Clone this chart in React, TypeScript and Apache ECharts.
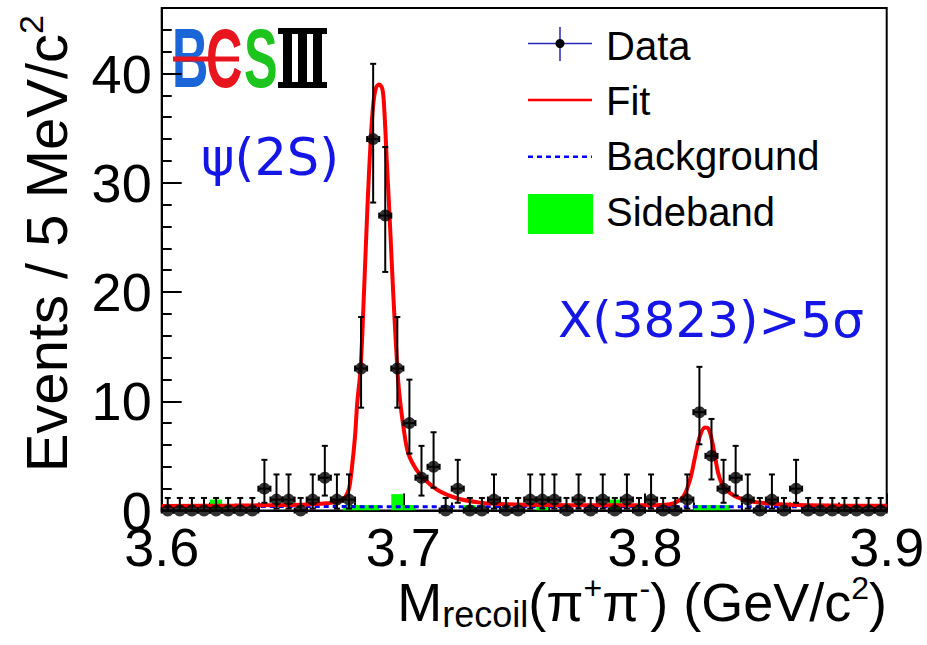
import React, { useEffect, useRef } from "react";
import * as echarts from "echarts";

// ---- Histogram definition ----
const BIN_START = 3.6;
const BIN_WIDTH = 0.005;

// Observed counts per 5 MeV bin (60 bins, 3.600 - 3.900 GeV)
const counts = [
  0, 0, 0, 0, 0, 0, 0, 0, 2, 1,
  1, 0, 1, 3, 1, 1, 13, 34, 27, 13,
  8, 3, 4, 0, 2, 0, 0, 1, 0, 0,
  1, 1, 1, 0, 1, 0, 1, 0, 1, 0,
  1, 0, 0, 1, 9, 5, 2, 3, 1, 0,
  1, 0, 2, 0, 0, 0, 0, 0, 0, 0,
];

// Sideband histogram (scaled) per bin
const sideband = [
  0, 0, 0, 0, 1.0, 0, 0, 0, 0, 0,
  0, 0, 0, 0, 0, 0.5, 0.5, 0.5, 0, 1.5,
  0.5, 0, 0, 0, 0, 0.5, 0, 0, 0, 0,
  0, 0.5, 0, 0, 0, 0, 0, 1.0, 0, 0,
  0, 0, 0, 0, 0.5, 0.5, 0.5, 0, 0, 0,
  0, 0, 0, 0, 0, 0, 0, 0, 0, 0,
];

// 68% Poisson interval (lower, upper) for the observed counts
const poissonLo: Record<number, number> = {
  0: 0, 1: 0.173, 2: 0.708, 3: 1.367, 4: 2.086, 5: 2.84, 8: 5.214, 9: 6.055, 13: 9.414, 27: 21.84, 34: 28.19,
};
const poissonHi: Record<number, number> = {
  0: 1.148, 1: 3.3, 2: 4.638, 3: 5.918, 4: 7.163, 5: 8.382, 8: 11.98, 9: 13.15, 13: 17.71, 27: 33.27, 34: 40.89,
};

// Fit curve
const fitMass = [
  3.6, 3.63, 3.65, 3.66, 3.667, 3.67, 3.674, 3.676, 3.6775, 3.6786,
  3.68, 3.6809, 3.6823, 3.6837, 3.6851, 3.6865, 3.6876, 3.6887, 3.6899, 3.6913,
  3.6921, 3.6931, 3.6945, 3.6958, 3.6975, 3.6983, 3.7, 3.702, 3.7055, 3.7097,
  3.7152, 3.7221, 3.7317, 3.74, 3.75, 3.77, 3.79, 3.8, 3.8062, 3.8117,
  3.8158, 3.8186, 3.8207, 3.8227, 3.8248, 3.8262, 3.8276, 3.829, 3.8303, 3.8324,
  3.8352, 3.8393, 3.8448, 3.8503, 3.86, 3.88, 3.9,
];
const fitValue = [
  0.42, 0.45, 0.5, 0.55, 0.65, 0.7, 0.9, 1.25, 2.0, 3.7,
  6.8, 9.8, 13.0, 19.9, 27.6, 34.0, 37.3, 38.7, 39.0, 38.6,
  36.7, 32.2, 26.0, 19.9, 13.0, 10.75, 7.7, 5.25, 3.7, 2.65,
  1.73, 1.12, 0.72, 0.6, 0.53, 0.49, 0.47, 0.48, 0.5, 0.66,
  1.27, 2.8, 4.9, 6.8, 7.6, 7.5, 6.5, 4.9, 3.4, 2.2,
  1.6, 1.1, 0.8, 0.66, 0.52, 0.45, 0.43,
];

// Background component
const bgMass = [3.6, 3.9];
const bgValue = [0.36, 0.34];

// Axis ticks
const yMajorTicks = [0, 10, 20, 30, 40];

const FONT = "'Liberation Sans', Arial, Helvetica, sans-serif";
const BLUE_TXT = "#1515e6";

export default function App() {
  const ref = useRef<HTMLDivElement>(null);

  useEffect(() => {
    if (!ref.current) return;
    const chart = echarts.init(ref.current, undefined, { renderer: "svg" });

    const dataPts = counts.map((n, i) => [
      BIN_START + BIN_WIDTH * (i + 0.5),
      n,
      poissonLo[n],
      poissonHi[n],
    ]);
    const sbData = sideband
      .map((v, i) => [BIN_START + BIN_WIDTH * i, v])
      .filter((d) => d[1] > 0);

    const legendFont = `40px ${FONT}`;

    const option: any = {
      animation: false,
      grid: {
        left: 161.7,
        right: 40.3,
        top: 8,
        bottom: 134.5,
        show: true,
        borderColor: "#000",
        borderWidth: 2,
        backgroundColor: "transparent",
        containLabel: false,
        outerBoundsMode: "none",
      },
      xAxis: [
        {
          type: "value",
          min: 3.6,
          max: 3.9,
          interval: 0.1,
          position: "bottom",
          axisLine: { show: true, lineStyle: { color: "#000", width: 2 } },
          axisTick: { show: true, inside: true, length: 17, lineStyle: { color: "#000", width: 2 } },
          minorTick: { show: true, splitNumber: 5, length: 8, lineStyle: { color: "#000", width: 2 } },
          splitLine: { show: false },
          axisLabel: {
            margin: 9,
            fontSize: 54,
            fontFamily: FONT,
            color: "#000",
            formatter: (v: number) => v.toFixed(1),
          },
        },
      ],
      yAxis: [
        {
          type: "value",
          min: 0,
          max: 46,
          interval: 2,
          position: "left",
          axisLine: { show: true, lineStyle: { color: "#000", width: 2 } },
          axisTick: { show: true, inside: true, length: 10, lineStyle: { color: "#000", width: 2 } },
          splitLine: { show: false },
          axisLabel: {
            margin: 10,
            fontSize: 54,
            fontFamily: FONT,
            color: "#000",
            formatter: (v: number) =>
              Math.abs(v - Math.round(v / 10) * 10) < 1e-6 ? String(Math.round(v)) : "",
          },
        },
        {
          type: "value",
          min: 0,
          max: 46,
          position: "left",
          axisLine: { show: false },
          axisLabel: { show: false },
          splitLine: { show: false },
          axisTick: {
            show: true,
            inside: true,
            length: 20,
            customValues: yMajorTicks,
            lineStyle: { color: "#000", width: 2 },
          },
        },
      ],
      series: [
        {
          name: "Sideband",
          type: "custom",
          z: 1,
          clip: true,
          data: sbData,
          renderItem: (params: any, api: any) => {
            const x0 = api.value(0);
            const v = api.value(1);
            const p1 = api.coord([x0, v]);
            const p2 = api.coord([x0 + BIN_WIDTH, 0]);
            return {
              type: "rect",
              shape: { x: p1[0], y: p1[1], width: p2[0] - p1[0], height: p2[1] - p1[1] },
              style: { fill: "#00ff00" },
            };
          },
        },
        {
          name: "Background",
          type: "line",
          z: 2,
          symbol: "none",
          data: bgMass.map((m, i) => [m, bgValue[i]]),
          lineStyle: { color: "#0000ff", width: 3, type: [5, 4] },
        },
        {
          name: "Fit",
          type: "line",
          z: 3,
          symbol: "none",
          smooth: 0.35,
          data: fitMass.map((m, i) => [m, fitValue[i]]),
          lineStyle: { color: "#ff0000", width: 4 },
        },
        {
          name: "DataErr",
          type: "custom",
          z: 4,
          clip: false,
          data: dataPts,
          encode: { x: 0, y: 1 },
          renderItem: (params: any, api: any) => {
            const x = api.value(0);
            const y = api.value(1);
            const lo = api.value(2);
            const hi = api.value(3);
            const c = api.coord([x, y]);
            const t = api.coord([x, hi]);
            const b = api.coord([x, lo]);
            const l = api.coord([x - BIN_WIDTH / 2, y]);
            const r = api.coord([x + BIN_WIDTH / 2, y]);
            const st = { stroke: "#000", lineWidth: 2 };
            const cap = 3;
            const children: any[] = [
              { type: "line", shape: { x1: c[0], y1: t[1], x2: c[0], y2: b[1] }, style: st },
              { type: "line", shape: { x1: c[0] - cap, y1: t[1], x2: c[0] + cap, y2: t[1] }, style: st },
              { type: "line", shape: { x1: l[0], y1: c[1], x2: r[0], y2: c[1] }, style: st },
              { type: "line", shape: { x1: l[0], y1: c[1] - 3, x2: l[0], y2: c[1] + 3 }, style: st },
              { type: "line", shape: { x1: r[0], y1: c[1] - 3, x2: r[0], y2: c[1] + 3 }, style: st },
            ];
            if (lo > 0) {
              children.push({ type: "line", shape: { x1: c[0] - cap, y1: b[1], x2: c[0] + cap, y2: b[1] }, style: st });
            }
            return { type: "group", children };
          },
        },
        {
          name: "Data",
          type: "scatter",
          z: 5,
          clip: false,
          symbol: "circle",
          symbolSize: 12,
          itemStyle: { color: "#000" },
          data: dataPts.map((d) => [d[0], d[1]]),
        },
      ],
      graphic: [
        // BESIII logo
        { type: "text", x: 172, y: 58, scaleX: 0.6, style: { text: "B", fill: "#1a66d8", font: `bold 84px ${FONT}`, align: "left", verticalAlign: "middle" } },
        { type: "text", x: 206, y: 58, scaleX: 0.6, style: { text: "C", fill: "#e8141e", font: `bold 84px ${FONT}`, align: "left", verticalAlign: "middle" } },
        { type: "rect", shape: { x: 173, y: 56.5, width: 66, height: 5 }, style: { fill: "#e8141e" } },
        { type: "text", x: 244, y: 58, scaleX: 0.6, style: { text: "S", fill: "#1dc41d", font: `bold 84px ${FONT}`, align: "left", verticalAlign: "middle" } },
        { type: "rect", shape: { x: 278, y: 28, width: 49, height: 6 }, style: { fill: "#000" } },
        { type: "rect", shape: { x: 278, y: 82, width: 49, height: 6 }, style: { fill: "#000" } },
        { type: "rect", shape: { x: 283, y: 28, width: 9, height: 60 }, style: { fill: "#000" } },
        { type: "rect", shape: { x: 298, y: 28, width: 9, height: 60 }, style: { fill: "#000" } },
        { type: "rect", shape: { x: 313, y: 28, width: 9, height: 60 }, style: { fill: "#000" } },
        // Annotations
        { type: "text", x: 270, y: 157, style: { text: "ψ(2S)", fill: BLUE_TXT, font: "51px 'DejaVu Sans', sans-serif", align: "center", verticalAlign: "middle" } },
        { type: "text", x: 711, y: 320, style: { text: "X(3823)>5σ", fill: BLUE_TXT, font: "50px 'DejaVu Sans', sans-serif", align: "center", verticalAlign: "middle" } },
        // Legend
        { type: "line", shape: { x1: 528, y1: 43.5, x2: 592, y2: 43.5 }, style: { stroke: "#2626b8", lineWidth: 1.5 } },
        { type: "line", shape: { x1: 560, y1: 27, x2: 560, y2: 61 }, style: { stroke: "#2626b8", lineWidth: 1.5 } },
        { type: "circle", shape: { cx: 560, cy: 43.5, r: 4.5 }, style: { fill: "#000" } },
        { type: "line", shape: { x1: 528, y1: 100, x2: 592, y2: 100 }, style: { stroke: "#ff0000", lineWidth: 2.5 } },
        { type: "line", shape: { x1: 528, y1: 156.7, x2: 592, y2: 156.7 }, style: { stroke: "#0000ff", lineWidth: 2.5, lineDash: [5, 4] } },
        { type: "rect", shape: { x: 528, y: 194, width: 65, height: 40 }, style: { fill: "#00ff00" } },
        { type: "text", x: 606, y: 46, style: { text: "Data", fill: "#000", font: legendFont, align: "left", verticalAlign: "middle" } },
        { type: "text", x: 606, y: 101, style: { text: "Fit", fill: "#000", font: legendFont, align: "left", verticalAlign: "middle" } },
        { type: "text", x: 606, y: 156, style: { text: "Background", fill: "#000", font: legendFont, align: "left", verticalAlign: "middle" } },
        { type: "text", x: 606, y: 212, style: { text: "Sideband", fill: "#000", font: legendFont, align: "left", verticalAlign: "middle" } },
        // Axis titles
        {
          type: "text",
          x: 887,
          y: 602,
          style: {
            text: "{m|M}{sub|recoil}{m|(π}{sup|+}{m|π}{sup|-}{m|) (GeV/c}{sup|2}{m|)}",
            align: "right",
            verticalAlign: "middle",
            fill: "#000",
            font: `54px ${FONT}`,
            rich: {
              m: { fontSize: 54, fontFamily: FONT, lineHeight: 60, fill: "#000" },
              sub: { fontSize: 36, fontFamily: FONT, lineHeight: 11, verticalAlign: "bottom", fill: "#000" },
              sup: { fontSize: 32, fontFamily: FONT, lineHeight: 36, verticalAlign: "top", fill: "#000" },
            },
          },
        },
        {
          type: "text",
          x: 46,
          y: 15,
          rotation: Math.PI / 2,
          style: {
            text: "{m|Events / 5 MeV/c}{sup|2}",
            align: "right",
            verticalAlign: "middle",
            fill: "#000",
            font: `58px ${FONT}`,
            rich: {
              m: { fontSize: 58, fontFamily: FONT, lineHeight: 64, fill: "#000" },
              sup: { fontSize: 34, fontFamily: FONT, lineHeight: 38, verticalAlign: "top", fill: "#000" },
            },
          },
        },
      ],
    };

    chart.setOption(option);
    return () => chart.dispose();
  }, []);

  return (
    <div
      ref={ref}
      style={{ position: "absolute", left: 0, top: 0, width: 927, height: 645, background: "#fff" }}
    />
  );
}
